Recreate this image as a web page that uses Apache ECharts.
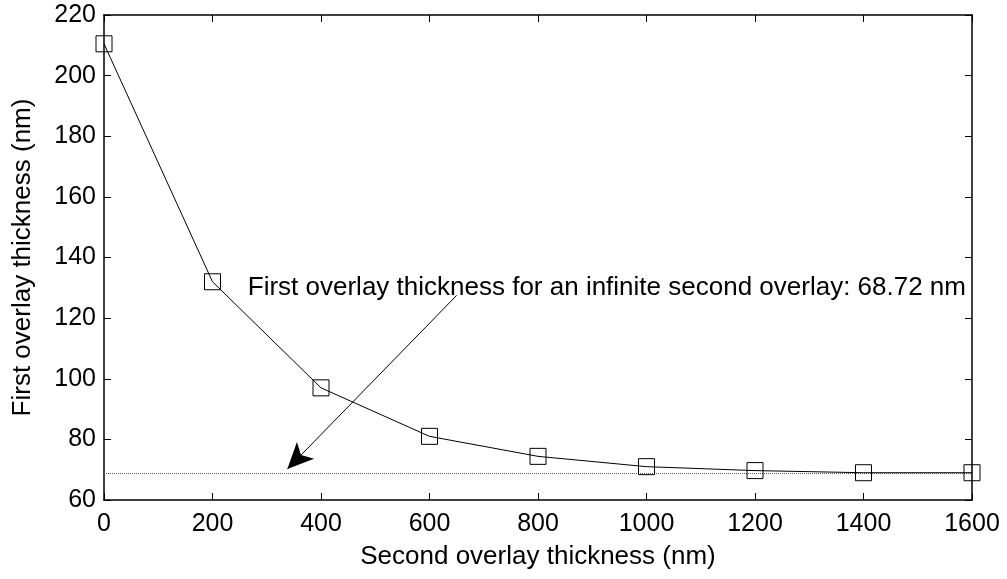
<!DOCTYPE html>
<html>
<head>
<meta charset="utf-8">
<script src="https://cdn.jsdelivr.net/npm/echarts@6/dist/echarts.min.js"></script>
<style>
  html, body { margin: 0; padding: 0; background: #fff; }
  #main { width: 1007px; height: 579px; }
</style>
</head>
<body>
<div id="main"></div>
<script>
// second overlay thickness (nm)
var secondThickness = [0, 200, 400, 600, 800, 1000, 1200, 1400, 1600];
// first overlay thickness (nm)
var firstThickness = [210.5, 132, 97, 81, 74.4, 71, 69.7, 69, 69];
var asymptote = 68.72;
var xTicks = [0, 1600, 200];
var yTicks = [60, 220, 20];

var noteText = 'First overlay thickness for an infinite second overlay: 68.72 nm';
var noteAt = [265, 130];
var arrowFrom = [650, 127.5];
var arrowTo = [338, 70.2];

var font = 'Liberation Sans, Arial, sans-serif';

var seriesData = secondThickness.map(function (x, i) { return [x, firstThickness[i]]; });

function plain(v) { return String(v); }

var option = {
  animation: false,
  backgroundColor: '#fff',
  grid: { left: 104, right: 35, top: 15, bottom: 79 },
  xAxis: [
    {
      type: 'value', min: xTicks[0], max: xTicks[1], interval: xTicks[2],
      name: 'Second overlay thickness (nm)', nameLocation: 'middle', nameGap: 44,
      nameTextStyle: { color: '#000', fontSize: 26, fontFamily: font },
      axisLine: { onZero: false, lineStyle: { color: '#000', width: 1.5 } },
      axisTick: { inside: true, length: 7, lineStyle: { color: '#000' } },
      axisLabel: { color: '#000', fontSize: 25, fontFamily: font, margin: 12, formatter: plain },
      splitLine: { show: false }
    },
    {
      type: 'value', position: 'top', min: xTicks[0], max: xTicks[1], interval: xTicks[2],
      axisLine: { onZero: false, lineStyle: { color: '#000', width: 1.5 } },
      axisTick: { inside: true, length: 7, lineStyle: { color: '#000' } },
      axisLabel: { show: false },
      splitLine: { show: false }
    }
  ],
  yAxis: [
    {
      type: 'value', min: yTicks[0], max: yTicks[1], interval: yTicks[2],
      name: 'First overlay thickness (nm)', nameLocation: 'middle', nameGap: 68,
      nameTextStyle: { color: '#000', fontSize: 26, fontFamily: font },
      axisLine: { onZero: false, lineStyle: { color: '#000', width: 1.5 } },
      axisTick: { inside: true, length: 7, lineStyle: { color: '#000' } },
      axisLabel: { color: '#000', fontSize: 25, fontFamily: font, margin: 8, formatter: plain },
      splitLine: { show: false }
    },
    {
      type: 'value', position: 'right', min: yTicks[0], max: yTicks[1], interval: yTicks[2],
      axisLine: { onZero: false, lineStyle: { color: '#000', width: 1.5 } },
      axisTick: { inside: true, length: 7, lineStyle: { color: '#000' } },
      axisLabel: { show: false },
      splitLine: { show: false }
    }
  ],
  series: [
    {
      type: 'line',
      data: [[xTicks[0], asymptote], [xTicks[1], asymptote]],
      symbol: 'none',
      lineStyle: { color: '#555', width: 1, type: [1, 1] },
      silent: true,
      markLine: {
        silent: true,
        symbol: ['none', 'arrow'],
        symbolSize: [18, 26],
        lineStyle: { color: '#000', width: 1, type: 'solid' },
        label: { show: false },
        data: [[{ coord: arrowFrom }, { coord: arrowTo }]]
      },
      markPoint: {
        silent: true,
        symbol: 'circle',
        symbolSize: 0,
        label: {
          show: true, position: 'right', distance: 0,
          formatter: noteText,
          color: '#000', fontSize: 26, fontFamily: font
        },
        data: [{ coord: noteAt }]
      }
    },
    {
      type: 'line',
      data: seriesData,
      symbol: 'rect',
      symbolSize: 16,
      showAllSymbol: true,
      lineStyle: { color: '#000', width: 1 },
      itemStyle: { color: 'transparent', borderColor: '#000', borderWidth: 1 }
    }
  ]
};

var myChart = echarts.init(document.getElementById('main'));
myChart.setOption(option);
</script>
</body>
</html>
